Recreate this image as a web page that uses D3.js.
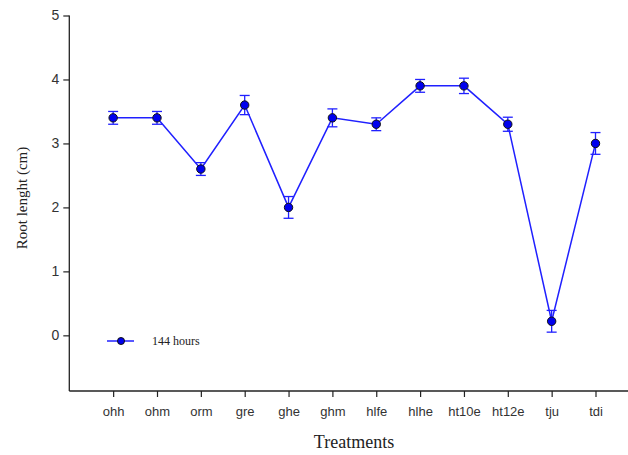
<!DOCTYPE html>
<html>
<head>
<meta charset="utf-8">
<script src="https://cdn.jsdelivr.net/npm/d3@7"></script>
<style>
  html, body { margin: 0; padding: 0; background: #fff; }
  svg { display: block; }
</style>
</head>
<body>
<div id="chart"></div>
<script>
const categories = ["ohh", "ohm", "orm", "gre", "ghe", "ghm", "hlfe", "hlhe", "ht10e", "ht12e", "tju", "tdi"];
const values = [3.4, 3.4, 2.6, 3.6, 2.0, 3.4, 3.3, 3.9, 3.9, 3.3, 0.22, 3.0];
const errors = [0.1, 0.1, 0.1, 0.15, 0.17, 0.14, 0.1, 0.1, 0.12, 0.11, 0.17, 0.17];
const yTicks = [0, 1, 2, 3, 4, 5];
const seriesName = "144 hours";

(function () {
const W = 628, H = 455;
const svg = d3.select("#chart").append("svg").attr("width", W).attr("height", H);

const mLeft = 69.3, mBottom = 391, mTop = 15.5;
const step = 43.85;
const x = d3.scaleLinear().domain([0, 13]).range([mLeft, mLeft + 13 * step]);
const y = d3.scaleLinear().domain([-0.87, 5]).range([mBottom, mTop]);

const blue = "#2020ff";

// Y axis
const yAxis = d3.axisLeft(y).tickValues(yTicks).tickSize(6).tickSizeOuter(0).tickFormat(d3.format("d"));
const gy = svg.append("g").attr("transform", `translate(${mLeft},0)`).call(yAxis);
gy.select(".domain").attr("stroke", "#222").attr("stroke-width", 1.3).attr("d", `M0,${mTop}V${mBottom}`);
gy.selectAll(".tick line").attr("stroke", "#222").attr("stroke-width", 1.2);
gy.selectAll(".tick text").attr("x", -10).attr("font-family", "Liberation Sans, Arial, sans-serif")
  .attr("font-size", 14).attr("fill", "#333");

// X axis
const xAxis = d3.axisBottom(x).tickValues(categories.map((c, i) => i + 1))
  .tickFormat((d) => categories[d - 1]).tickSize(6).tickSizeOuter(0);
const gx = svg.append("g").attr("transform", `translate(0,${mBottom})`).call(xAxis);
gx.select(".domain").attr("stroke", "#222").attr("stroke-width", 1.3).attr("d", `M${mLeft},0H${W}`);
gx.selectAll(".tick line").attr("stroke", "#222").attr("stroke-width", 1.2);
gx.selectAll(".tick text").attr("y", 16).attr("font-family", "Liberation Sans, Arial, sans-serif")
  .attr("font-size", 13).attr("fill", "#333");

// Axis titles
svg.append("text").attr("x", 354).attr("y", 448).attr("text-anchor", "middle")
  .attr("font-family", "Liberation Serif, Times New Roman, serif").attr("font-size", 18).attr("fill", "#222")
  .text("Treatments");
svg.append("text").attr("transform", `translate(27,198) rotate(-90)`).attr("text-anchor", "middle")
  .attr("font-family", "Liberation Serif, Times New Roman, serif").attr("font-size", 15).attr("fill", "#222")
  .text("Root lenght (cm)");

const data = categories.map((c, i) => ({ c, i: i + 1, v: values[i], e: errors[i] }));

// Line
svg.append("path").datum(data)
  .attr("fill", "none").attr("stroke", blue).attr("stroke-width", 1.5)
  .attr("d", d3.line().x((d) => x(d.i)).y((d) => y(d.v)));

// Error bars
const eb = svg.append("g").attr("stroke", blue).attr("stroke-width", 1.3);
data.forEach((d) => {
  const cx = x(d.i);
  eb.append("line").attr("x1", cx).attr("x2", cx).attr("y1", y(d.v + d.e)).attr("y2", y(d.v - d.e));
  eb.append("line").attr("x1", cx - 5).attr("x2", cx + 5).attr("y1", y(d.v + d.e)).attr("y2", y(d.v + d.e));
  eb.append("line").attr("x1", cx - 5).attr("x2", cx + 5).attr("y1", y(d.v - d.e)).attr("y2", y(d.v - d.e));
});

// Markers
svg.append("g").selectAll("circle").data(data).join("circle")
  .attr("cx", (d) => x(d.i)).attr("cy", (d) => y(d.v)).attr("r", 4.2)
  .attr("fill", "#0000ee").attr("stroke", "#111").attr("stroke-width", 1);

// Legend
const lg = svg.append("g");
lg.append("line").attr("x1", 107).attr("x2", 134).attr("y1", 341).attr("y2", 341)
  .attr("stroke", blue).attr("stroke-width", 1.5);
lg.append("circle").attr("cx", 121).attr("cy", 341).attr("r", 3.5)
  .attr("fill", "#0000ee").attr("stroke", "#111").attr("stroke-width", 1);
lg.append("text").attr("x", 152).attr("y", 345)
  .attr("font-family", "Liberation Serif, Times New Roman, serif").attr("font-size", 12).attr("fill", "#222")
  .text(seriesName);
})();
</script>
</body>
</html>
